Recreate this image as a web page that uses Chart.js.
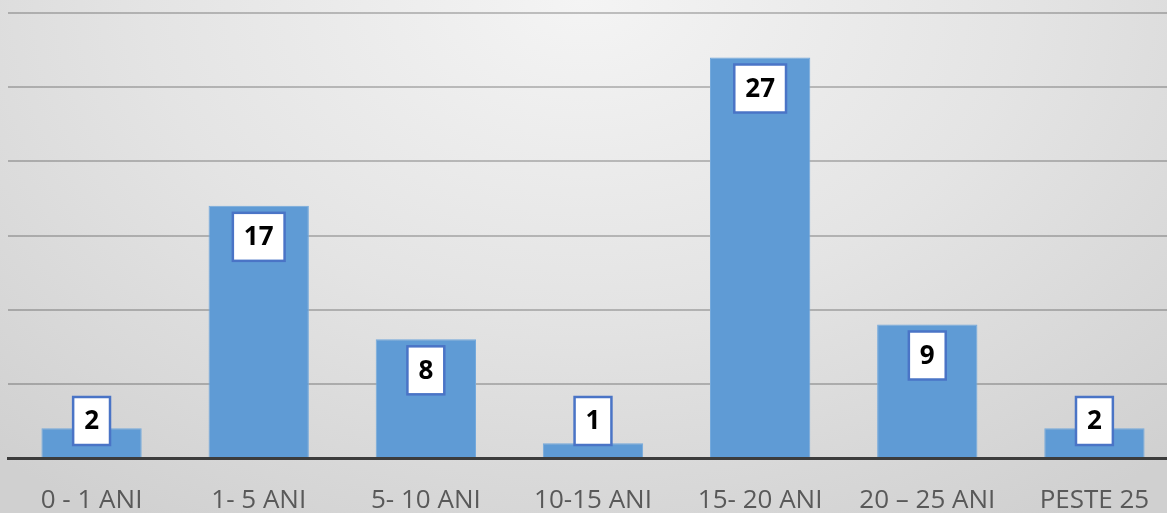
<!DOCTYPE html>
<html>
<head>
<meta charset="utf-8">
<script src="https://cdn.jsdelivr.net/npm/chart.js@4/dist/chart.umd.min.js"></script>
<style>
  html, body { margin: 0; padding: 0; overflow: hidden; }
  body {
    width: 1167px; height: 513px;
    background: radial-gradient(ellipse 75% 120% at 50% 0%, #f4f4f4 0%, #e4e4e4 50%, #d0d0d0 100%);
  }
  #wrap { position: absolute; left: 0; top: 0; width: 1178px; height: 513px; }
</style>
</head>
<body>
<div id="wrap"><canvas id="ageChart"></canvas></div>
<script>
  // Categories and values
  const labels = ["0 - 1 ANI", "1- 5 ANI", "5- 10 ANI", "10-15 ANI", "15- 20 ANI", "20 \u2013 25 ANI", "PESTE 25"];
  const counts = [2, 17, 8, 1, 27, 9, 2];
  const yTicks = [0, 5, 10, 15, 20, 25, 30];

  // Boxed value labels near the top of each bar
  const boxLabels = {
    id: "boxLabels",
    afterDatasetsDraw(chart) {
      const ctx = chart.ctx;
      const meta = chart.getDatasetMeta(0);
      ctx.save();
      ctx.font = "bold 26px 'Open Sans'";
      ctx.textAlign = "center";
      ctx.textBaseline = "middle";
      meta.data.forEach((bar, i) => {
        const txt = String(counts[i]);
        const w = ctx.measureText(txt).width + 22;
        const h = 48;
        const top = Math.min(bar.y + 7, bar.base - 60);
        const left = bar.x - w / 2;
        ctx.fillStyle = "#ffffff";
        ctx.fillRect(left, top, w, h);
        ctx.strokeStyle = "#4a74c6";
        ctx.lineWidth = 2.5;
        ctx.strokeRect(left, top, w, h);
        ctx.fillStyle = "#000000";
        ctx.fillText(txt, bar.x, top + h / 2 + 1);
      });
      ctx.restore();
    }
  };

  const ctxAge = document.getElementById("ageChart").getContext("2d");
  const chartAge = new Chart(ctxAge, {
    type: "bar",
    data: {
      labels: labels,
      datasets: [{
        data: counts,
        backgroundColor: "#5f9bd5",
        borderColor: "#74a9dc",
        borderWidth: 1,
        barPercentage: 0.6,
        categoryPercentage: 1
      }]
    },
    options: {
      responsive: true,
      maintainAspectRatio: false,
      animation: false,
      layout: { padding: { left: 8, top: 13, right: 0, bottom: 0 } },
      plugins: {
        legend: { display: false },
        tooltip: { enabled: false }
      },
      scales: {
        x: {
          grid: { display: false, drawTicks: false },
          border: { color: "#3c3c3c", width: 3 },
          ticks: {
            color: "#595959",
            font: { family: "'Open Sans'", size: 26 },
            padding: 27,
            maxRotation: 0,
            autoSkip: false
          },
          afterFit: s => { s.height = 55; }
        },
        y: {
          min: 0,
          max: 30,
          afterBuildTicks: s => { s.ticks = yTicks.map(v => ({ value: v })); },
          ticks: { display: false },
          border: { display: false },
          grid: {
            drawTicks: false,
            lineWidth: 2,
            color: c => c.tick.value === 0 ? "rgba(0,0,0,0)" : "rgba(0,0,0,0.22)"
          },
          afterFit: s => { s.width = 0; }
        }
      }
    },
    plugins: [boxLabels]
  });
</script>
</body>
</html>
